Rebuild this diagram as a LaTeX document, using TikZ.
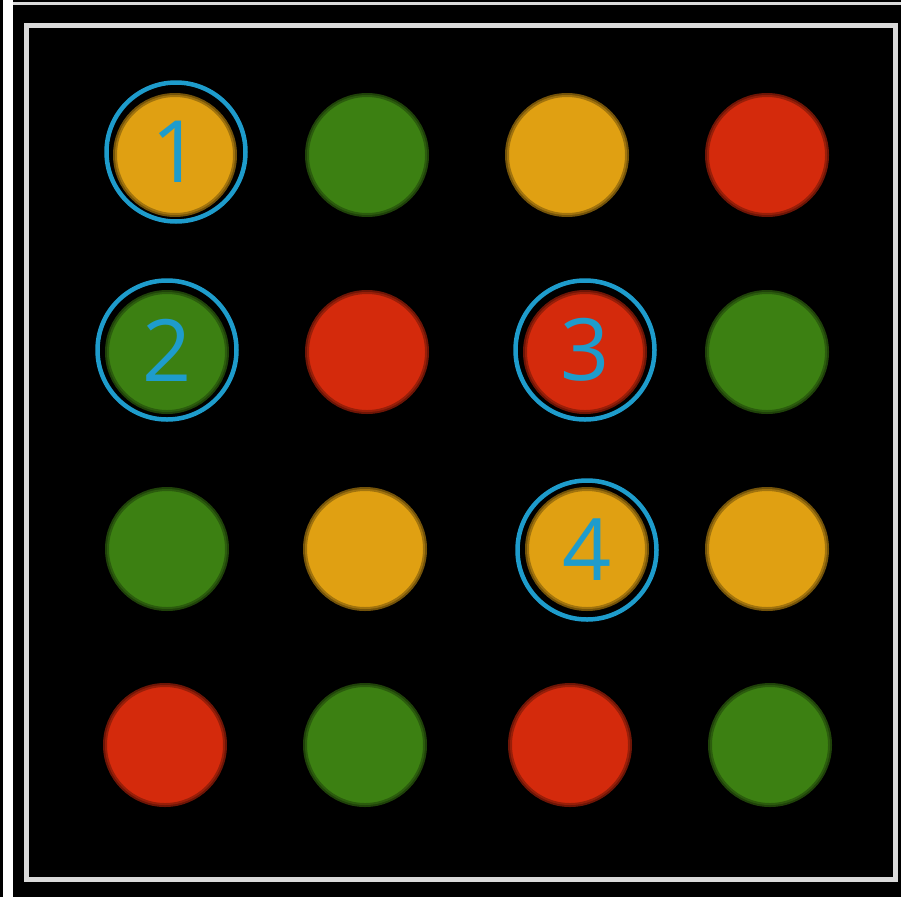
\documentclass[tikz,border=0pt]{standalone}
\usepackage{fontspec}
\newfontfamily\numfont{Open Sans}
\definecolor{amber}{HTML}{E0A012}
\definecolor{leaf}{HTML}{3C8012}
\definecolor{tomato}{HTML}{D42A0C}
\definecolor{ringblue}{HTML}{1E9CCC}
\definecolor{framegray}{HTML}{DADADA}
\tikzset{
  dot/.style={circle, minimum size=120pt, inner sep=0pt, draw=#1!65!black, draw opacity=0.8, line width=4pt, fill=#1},
  ring/.style={circle, minimum size=139pt, inner sep=0pt, draw=ringblue, line width=4.5pt,
    text=ringblue, font=\numfont\fontsize{86}{86}\selectfont},
}
\begin{document}
\begin{tikzpicture}[x=1pt,y=-1pt]
\fill[black] (0,0) rectangle (901,897);
\useasboundingbox (0,0) rectangle (901,897);
% outer white bar and top line
\fill[white] (3,0) rectangle (13,897);
\fill[framegray] (13,2) rectangle (901,5);
% inner frame
\draw[framegray, line width=5pt] (26,25) rectangle (895,879);
% row 1
\node[dot=amber]  (d11) at (175,155) {};
\node[dot=leaf]   (d12) at (367,155) {};
\node[dot=amber]  (d13) at (567,155) {};
\node[dot=tomato] (d14) at (767,155) {};
% row 2
\node[dot=leaf]   (d21) at (167,352) {};
\node[dot=tomato] (d22) at (367,352) {};
\node[dot=tomato] (d23) at (585,352) {};
\node[dot=leaf]   (d24) at (767,352) {};
% row 3
\node[dot=leaf]   (d31) at (167,549) {};
\node[dot=amber]  (d32) at (365,549) {};
\node[dot=amber]  (d33) at (587,549) {};
\node[dot=amber]  (d34) at (767,549) {};
% row 4
\node[dot=tomato] (d41) at (165,745) {};
\node[dot=leaf]   (d42) at (365,745) {};
\node[dot=tomato] (d43) at (570,745) {};
\node[dot=leaf]   (d44) at (770,745) {};
% marked spots
\node[ring] (r1) at (176,152) {1};
\node[ring] (r2) at (167,350) {2};
\node[ring] (r3) at (585,350) {3};
\node[ring] (r4) at (587,550) {4};
\end{tikzpicture}
\end{document}
